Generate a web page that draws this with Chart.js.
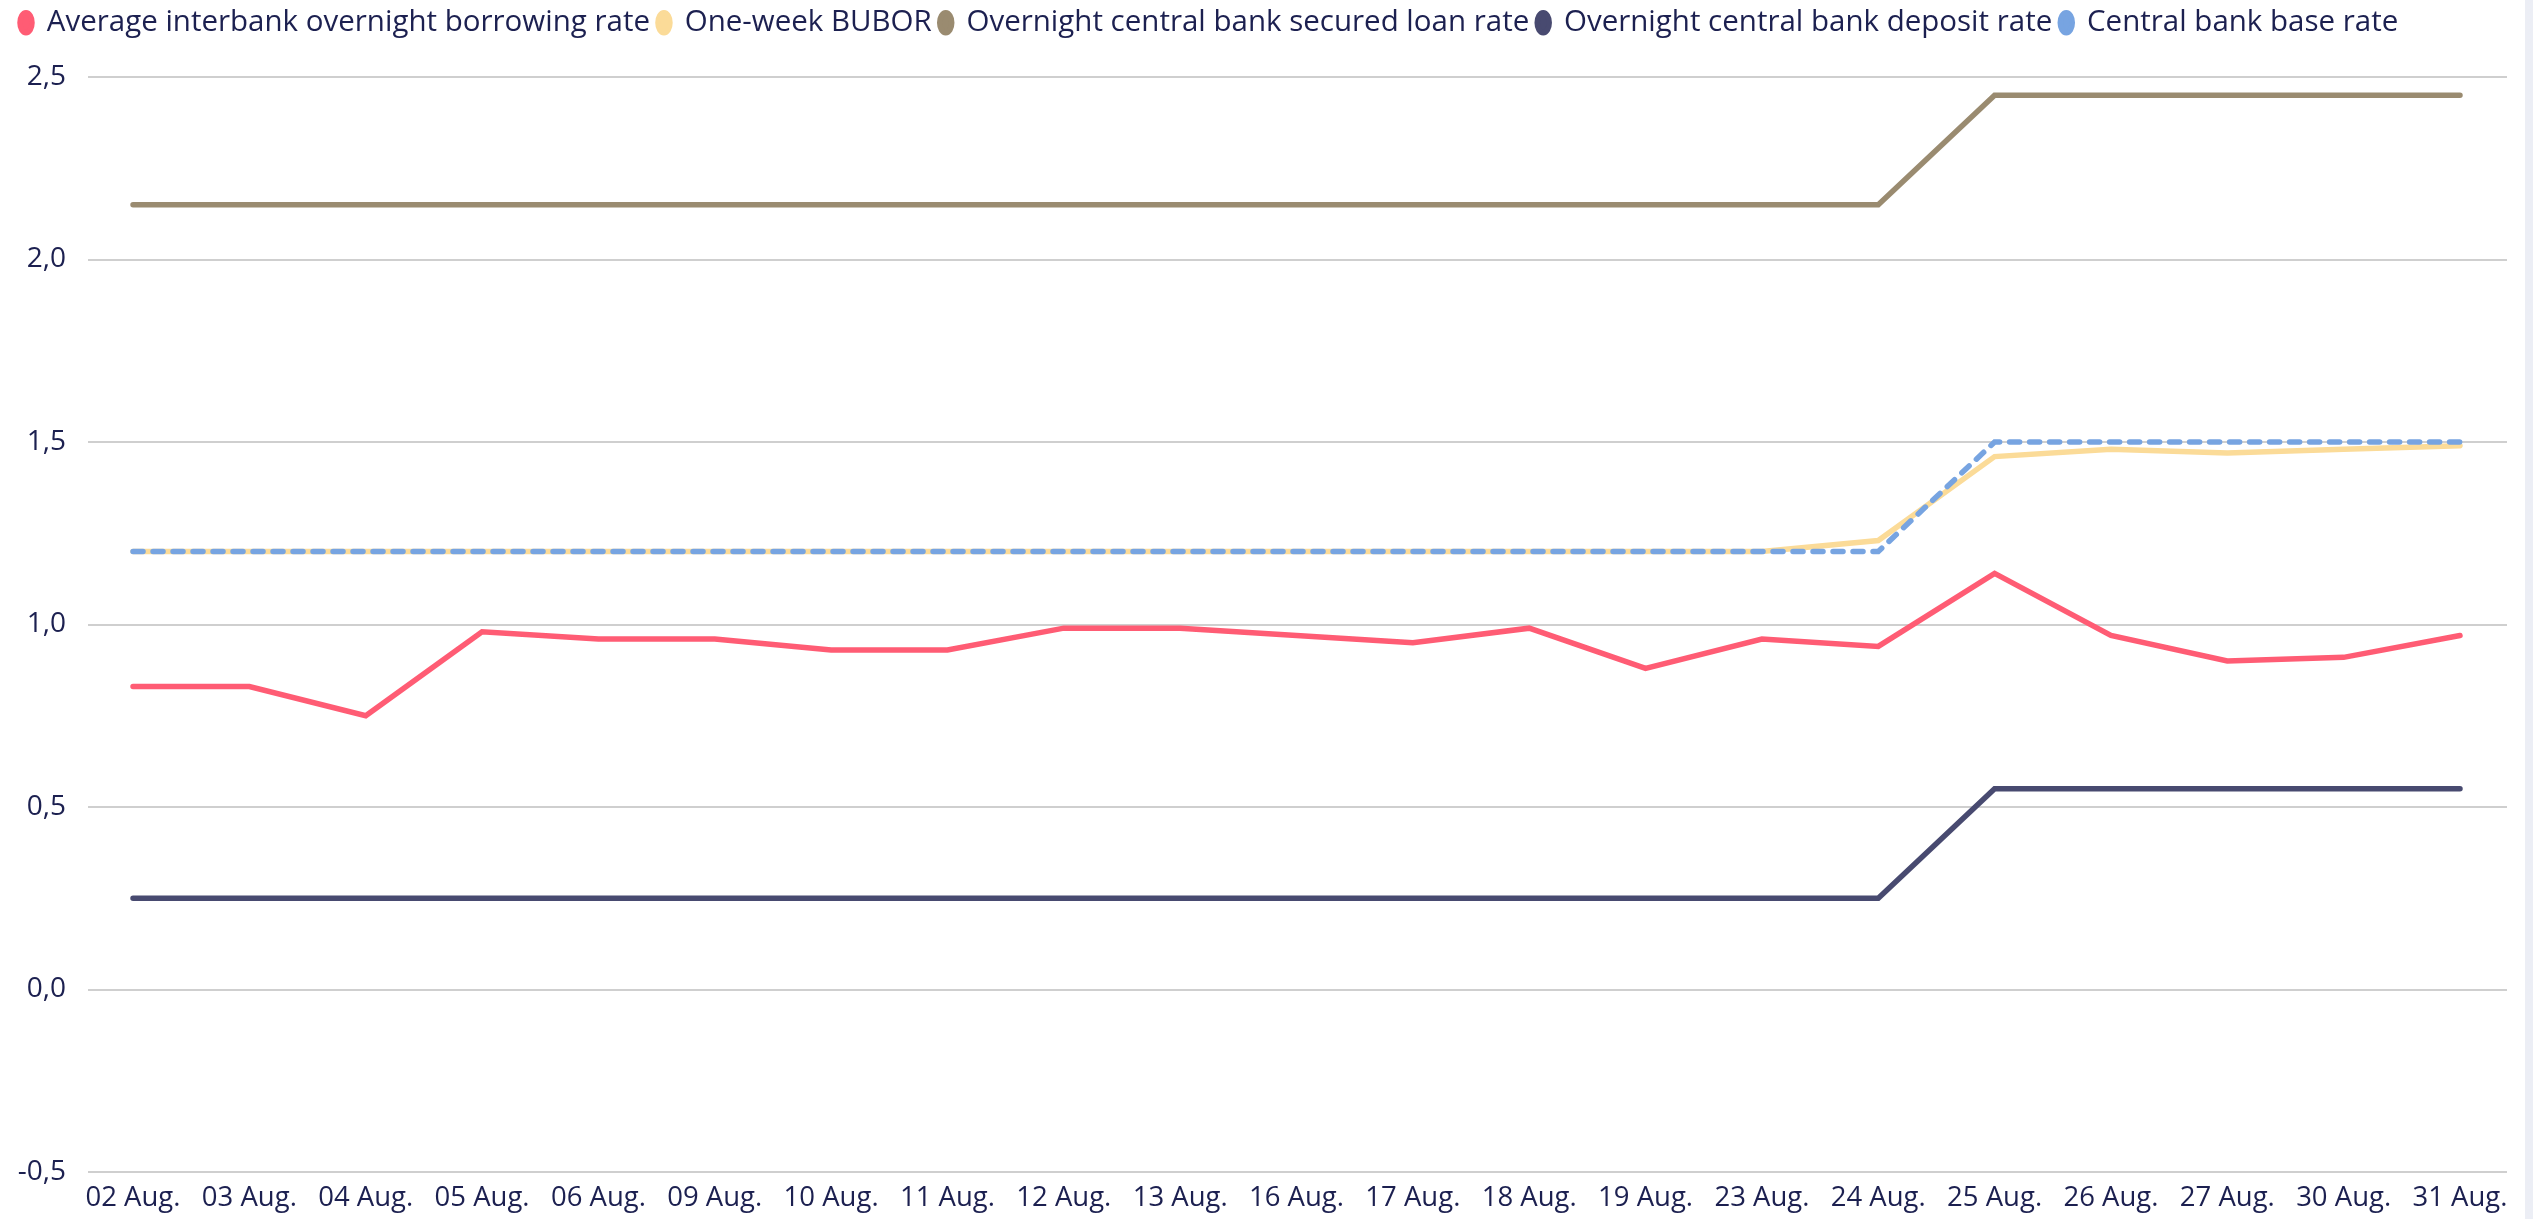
<!DOCTYPE html>
<html>
<head>
<meta charset="utf-8">
<script src="https://cdn.jsdelivr.net/npm/chart.js@4/dist/chart.umd.min.js"></script>
<style>
  html, body { margin: 0; padding: 0; background: #ffffff; overflow: hidden; }
  #wrap { position: absolute; left: 0; top: 0; width: 2533px; height: 1219px; }
  #edge { position: absolute; left: 2525px; top: 0; width: 8px; height: 1219px; background: #eceef5; }
</style>
</head>
<body>
<div id="wrap"><canvas id="c" width="2533" height="1219"></canvas></div>
<div id="edge"></div>
<script>
const categories = ["02 Aug.", "03 Aug.", "04 Aug.", "05 Aug.", "06 Aug.", "09 Aug.", "10 Aug.", "11 Aug.", "12 Aug.", "13 Aug.", "16 Aug.", "17 Aug.", "18 Aug.", "19 Aug.", "23 Aug.", "24 Aug.", "25 Aug.", "26 Aug.", "27 Aug.", "30 Aug.", "31 Aug."];
const interbankRate = [0.83, 0.83, 0.75, 0.98, 0.96, 0.96, 0.93, 0.93, 0.99, 0.99, 0.97, 0.95, 0.99, 0.88, 0.96, 0.94, 1.14, 0.97, 0.90, 0.91, 0.97];
const bubor1w = [1.20, 1.20, 1.20, 1.20, 1.20, 1.20, 1.20, 1.20, 1.20, 1.20, 1.20, 1.20, 1.20, 1.20, 1.20, 1.23, 1.46, 1.48, 1.47, 1.48, 1.49];
const securedLoanRate = [2.15, 2.15, 2.15, 2.15, 2.15, 2.15, 2.15, 2.15, 2.15, 2.15, 2.15, 2.15, 2.15, 2.15, 2.15, 2.15, 2.45, 2.45, 2.45, 2.45, 2.45];
const depositRate = [0.25, 0.25, 0.25, 0.25, 0.25, 0.25, 0.25, 0.25, 0.25, 0.25, 0.25, 0.25, 0.25, 0.25, 0.25, 0.25, 0.55, 0.55, 0.55, 0.55, 0.55];
const baseRate = [1.20, 1.20, 1.20, 1.20, 1.20, 1.20, 1.20, 1.20, 1.20, 1.20, 1.20, 1.20, 1.20, 1.20, 1.20, 1.20, 1.50, 1.50, 1.50, 1.50, 1.50];
const seriesNames = ["Average interbank overnight borrowing rate", "One-week BUBOR", "Overnight central bank secured loan rate", "Overnight central bank deposit rate", "Central bank base rate"];
const yTicks = [-0.5, 0.0, 0.5, 1.0, 1.5, 2.0, 2.5];

const FONT = "'Open Sans', 'Noto Sans', sans-serif";
const TXT = "#1c2050";
const pts = arr => arr.map((v, i) => ({ x: i, y: v }));

function ds(label, data, color, extra) {
  return Object.assign({
    label: label, data: pts(data), borderColor: color, backgroundColor: color,
    borderWidth: 5.5, pointRadius: 0, pointHoverRadius: 0, tension: 0, fill: false,
    borderCapStyle: 'round', borderJoinStyle: 'miter'
  }, extra || {});
}

const datasets = [
  ds(seriesNames[0], interbankRate, "#ff5c74", { order: 1 }),
  ds(seriesNames[1], bubor1w, "#fbdb98", { order: 3 }),
  ds(seriesNames[2], securedLoanRate, "#9a8b70", { order: 1 }),
  ds(seriesNames[3], depositRate, "#484a70", { order: 1 }),
  ds(seriesNames[4], baseRate, "#77a4e1", { order: 2, borderDash: [10, 10] })
];

const legendSpace = {
  id: 'legendSpace',
  beforeInit(chart) {
    const lg = chart.legend;
    if (!lg) return;
    const f = lg.fit;
    lg.fit = function () { f.call(this); this.height += 29.5; };
  }
};

const PADL = 12;

new Chart(document.getElementById('c'), {
  type: 'line',
  data: { datasets: datasets },
  plugins: [legendSpace],
  options: {
    responsive: false,
    animation: false,
    events: [],
    layout: { padding: { left: PADL, right: 26, top: 0, bottom: 0 } },
    plugins: {
      tooltip: { enabled: false },
      legend: {
        display: true,
        position: 'top',
        align: 'start',
        labels: {
          usePointStyle: true,
          pointStyle: 'circle',
          boxHeight: 14,
          boxWidth: 12,
          pointStyleWidth: 12,
          padding: 8,
          color: TXT,
          font: { family: FONT, size: 29.5 },
          sort: (a, b) => a.datasetIndex - b.datasetIndex
        }
      }
    },
    scales: {
      x: {
        type: 'linear',
        min: -0.387,
        max: 20.404,
        grid: { display: false, drawTicks: false },
        border: { display: false },
        afterFit: s => { s.height = 47; },
        afterBuildTicks: s => { s.ticks = categories.map((c, i) => ({ value: i })); },
        ticks: {
          autoSkip: false, maxRotation: 0, minRotation: 0, padding: 10,
          color: TXT, font: { family: FONT, size: 27.5 },
          callback: v => categories[v] !== undefined ? categories[v] : ''
        }
      },
      y: {
        min: -0.5,
        max: 2.5,
        afterFit: s => { s.width = 88 - PADL; },
        afterBuildTicks: s => { s.ticks = yTicks.map(v => ({ value: v })); },
        grid: { color: '#cfcfcf', lineWidth: 2, drawTicks: false },
        border: { display: false },
        ticks: {
          padding: 22, color: TXT, font: { family: FONT, size: 28 },
          callback: v => v.toFixed(1).replace('.', ',')
        }
      }
    }
  }
});
</script>
</body>
</html>
